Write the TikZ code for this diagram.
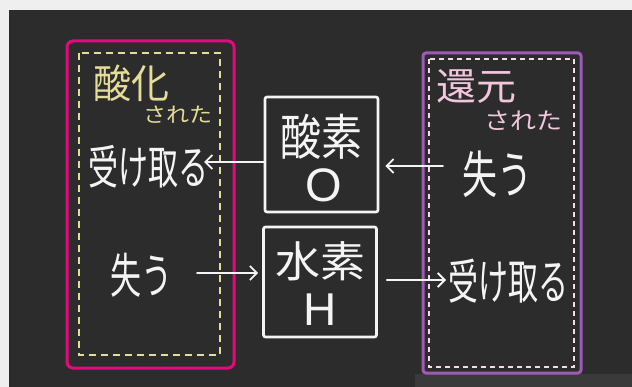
\documentclass[tikz,border=0pt]{standalone}
\usepackage{fontspec}
\usepackage{graphicx}
\newfontfamily\jp{Noto Sans CJK JP}
\newfontfamily\latinsans{Liberation Sans}
\usetikzlibrary{arrows.meta}
\definecolor{board}{HTML}{2C2C2C}
\definecolor{boardlow}{HTML}{3A3A3A}
\definecolor{frame}{HTML}{EFEFEF}
\definecolor{magentaC}{HTML}{E5087E}
\definecolor{purpleC}{HTML}{9C5CB4}
\definecolor{chalkY}{HTML}{E4DC98}
\definecolor{chalkP}{HTML}{F2C6DC}
\definecolor{chalkW}{HTML}{F4F4F4}
\definecolor{dashP}{HTML}{F3DCE4}
\newcommand{\vstretch}[2]{\scalebox{1}[#1]{#2}}
\newcommand{\jpsize}[1]{\jp\fontsize{#1}{#1}\selectfont}
\tikzset{
  x=1pt,y=-1pt,
  chalktext/.style={text=chalkW,inner sep=0pt},
  elembox/.style={draw=chalkW,line width=2.6pt,rounded corners=2pt,minimum width=113pt,inner sep=0pt},
  chalkarrow/.style={draw=chalkW,line width=1.8pt,line cap=round,-{Straight Barb[length=7pt,width=14pt,line width=1.8pt]}},
  groupbox/.style={line width=3pt},
  dashbox/.style={line width=1.6pt,dash pattern=on 7pt off 5pt},
}
\begin{document}
\begin{tikzpicture}
\useasboundingbox (0,0) rectangle (632,387);
\fill[frame] (0,0) rectangle (632,387);
\fill[board] (9,10) rectangle (632,387);
\fill[boardlow] (415,374) rectangle (632,387);
% left group
\draw[groupbox,draw=magentaC,rounded corners=6pt] (67,41) rectangle (234,368);
\draw[dashbox,draw=chalkY] (79,53) rectangle (220,355);
\node[text=chalkY,font=\jpsize{38},inner sep=0pt] (sanka) at (131,83) {\vstretch{1.05}{酸化}};
\node[text=chalkY,font=\jpsize{23},inner sep=0pt] (sareta1) at (178,115) {\vstretch{0.9}{された}};
\node[chalktext,font=\jpsize{30}] (ukeL) at (148,167) {\vstretch{1.55}{受け取る}};
\node[chalktext,font=\jpsize{31}] (ushinaL) at (141,275) {\vstretch{1.55}{失う}};
% right group
\draw[groupbox,draw=purpleC,rounded corners=3pt] (423,53) rectangle (581,373);
\draw[dashbox,draw=dashP,dash pattern=on 5pt off 4pt] (429,59) rectangle (574,367);
\node[text=chalkP,font=\jpsize{40},inner sep=0pt] (kangen) at (476,86) {\vstretch{0.95}{還元}};
\node[text=chalkP,font=\jpsize{26},inner sep=0pt] (sareta2) at (523,121) {\vstretch{0.9}{された}};
\node[chalktext,font=\jpsize{35}] (ushinaR) at (497,174) {\vstretch{1.45}{失う}};
\node[chalktext,font=\jpsize{30}] (ukeR) at (508,281) {\vstretch{1.6}{受け取る}};
% element boxes
\node[elembox,minimum height=115pt] (oxy) at (321.5,154.5) {};
\node[chalktext,font=\jpsize{41}] (oxyname) at (321,137) {\vstretch{1.2}{酸素}};
\node[chalktext,font=\latinsans\fontsize{47}{47}\selectfont] (oxysym) at (324,185) {O};
\node[elembox,minimum height=110pt] (hyd) at (320,282) {};
\node[chalktext,font=\jpsize{45}] (hydname) at (320,261) {\vstretch{0.95}{水素}};
\node[chalktext,font=\latinsans\fontsize{46}{46}\selectfont] (hydsym) at (320,310) {H};
% arrow ends
\coordinate (a1) at (204,162);
\coordinate (a2s) at (443,166);
\coordinate (a3s) at (197,273);
\coordinate (a4) at (446,280);
\draw[chalkarrow] (oxy.west |- a1) -- (a1);
\draw[chalkarrow] (a2s) -- ([xshift=6pt]oxy.east |- a2s);
\draw[chalkarrow] (a3s) -- ([xshift=-4pt]hyd.west |- a3s);
\draw[chalkarrow] ([xshift=9pt]hyd.east |- a4) -- (a4);
\end{tikzpicture}
\end{document}
